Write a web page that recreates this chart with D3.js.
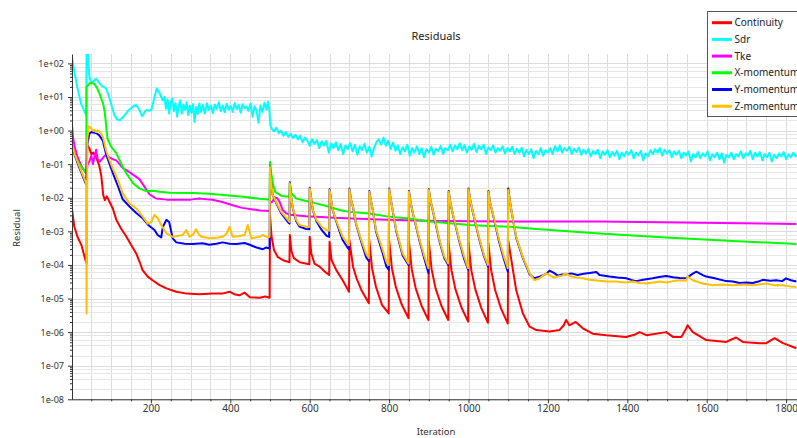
<!DOCTYPE html>
<html><head><meta charset="utf-8">
<script src="https://cdn.jsdelivr.net/npm/d3@7"></script>
<style>
body{margin:0;background:#fff}
text{font-family:"Noto Sans",sans-serif}
</style>
</head><body>
<svg id="chart" width="797" height="438"></svg>
<script>
// ---- data: [iteration, residual] ----
const seriesNames = ["Continuity","Sdr","Tke","X-momentum","Y-momentum","Z-momentum"];
const seriesColors = ["#ff0000","#00ffff","#ff00ff","#00ff00","#0000ff","#ffc000"];

const continuity = [[1,4.8e-3],[7,1.4e-3],[15,6.9e-4],[25,3.9e-4],[35,1.4e-4],[38,1.1e-4],[39,0.37],[45,0.3],[50,0.2],[55,0.22],[62,0.16],[70,0.09],[75,0.045],[80,0.012],[84,0.0085],[89,0.011],[96,0.0075],[104,0.0048],[113,0.0022],[125,0.0012],[138,7e-4],[150,4e-4],[163,2.2e-4],[172,1.2e-4],[179,7e-5],[186,5.5e-5],[192,4.5e-5],[204,3.5e-5],[222,2.5e-5],[239,2.0e-5],[264,1.6e-5],[290,1.4e-5],[322,1.35e-5],[355,1.4e-5],[380,1.4e-5],[398,1.6e-5],[410,1.35e-5],[423,1.25e-5],[436,1.5e-5],[449,1.1e-5],[474,1.05e-5],[488,1.15e-5],[499,1.05e-5],
[500,3.1e-3],[504,6.9e-4],[510,2.8e-4],[520,1.7e-4],[535,1.35e-4],[549,1.2e-4],
[550,7.8e-4],[554,2.6e-4],[560,1.6e-4],[575,1.2e-4],[599,1.05e-4],
[600,6.9e-4],[604,2.2e-4],[612,1.1e-4],[625,8.9e-5],[637,6.5e-5],[649,5e-5],
[650,4.9e-4],[655,1.4e-4],[667,7e-5],[683,3.5e-5],[699,1.6e-5],
[700,5.5e-4],[709,9e-5],[718,4e-5],[730,1.8e-5],[749,7.2e-6],
[750,5.5e-4],[757,8e-5],[767,2.2e-5],[782,6.5e-6],[799,3.6e-6],
[800,5.5e-4],[807,8e-5],[817,2.2e-5],[832,6.5e-6],[849,2.6e-6],
[850,5e-4],[857,7.5e-5],[867,2e-5],[882,6e-6],[899,2.3e-6],
[900,5e-4],[907,7.5e-5],[917,2e-5],[932,6e-6],[949,2.3e-6],
[950,4.5e-4],[957,7e-5],[967,1.9e-5],[982,5.5e-6],[999,2.05e-6],
[1000,4.5e-4],[1007,7e-5],[1017,1.9e-5],[1032,5.3e-6],[1049,1.9e-6],
[1050,4.5e-4],[1057,7e-5],[1067,1.8e-5],[1082,5e-6],[1099,1.8e-6],
[1100,5.5e-4],[1108,1.4e-4],[1120,1.8e-5],[1137,3.6e-6],[1154,1.45e-6],[1171,1.15e-6],[1204,1.05e-6],[1229,1.15e-6],[1240,1.6e-6],[1246,2.3e-6],[1254,1.6e-6],[1262,1.8e-6],[1270,2.0e-6],[1288,1.3e-6],[1313,9e-7],[1347,8.1e-7],[1397,7.2e-7],[1420,8.5e-7],[1431,1.0e-6],[1448,8.1e-7],[1498,1.0e-6],[1515,7.2e-7],[1536,7.2e-7],[1547,1.2e-6],[1552,1.6e-6],[1565,1.0e-6],[1599,5.8e-7],[1649,5.1e-7],[1674,6.9e-7],[1691,5.1e-7],[1733,4.7e-7],[1750,4.7e-7],[1771,6.6e-7],[1792,4.7e-7],[1826,3.3e-7]];

const sdr = [[1,160],[8,50],[16,16],[24,6.5],[33,3.6],[37,2.9],[38,250],[41,200],[45,40],[50,25],[56,30],[62,35],[68,28],[75,22],[81,20],[87,18],[96,9],[102,5],[108,2.9],[114,2.2],[121,2.0],[128,2.4],[134,2.9],[142,3.8],[150,4.6],[157,5.4],[163,5.8],[171,4.1],[178,2.7],[184,3.5],[188,4.1],[196,3.9],[201,4.1],[206,7],[209,10],[215,18],[219,15],[222,13],[226,10],[230,8],
[234,10],[238,4.5],[242,8.5],[246,3.2],[250,7],[254,9],[258,3.8],[262,6.5],[266,2.6],[270,5.5],[274,8],[278,3.2],[282,6],[286,4.2],[290,7],[294,2.9],[298,5.5],[302,3.4],[306,6.2],[310,1.8],[314,5],[318,3.1],[322,6.4],[326,3.6],[331,5.8],[336,3.2],[341,6.5],[346,4.1],[351,5.6],[356,3.3],[361,6],[366,4.4],[371,7],[376,3.8],[381,5.5],[386,3.5],[391,6.3],[396,4.2],[401,5.4],[406,3.6],[411,6.6],[416,4.4],[421,5.8],[426,3.4],[431,6.1],[436,4.6],[441,5.2],[446,3.9],[451,6.4],[456,2.6],[461,5.3],[466,4.0],[471,1.7],[476,5.6],[481,3.6],[486,6.8],[491,4.2],[495,7.2],[498,4.5],
[501,1.4],[505,1.1],[510,0.95],[516,1.2],[522,0.85],[528,1.0],[534,0.7],[540,0.9],[546,0.65],[552,0.8],[558,0.6],[564,0.75],[570,0.55],[576,0.7],[582,0.45],[588,0.62],[594,0.5],[600,0.35],[606,0.55],[612,0.4],[618,0.52],[624,0.3],[630,0.48],[636,0.36],[642,0.5],[648,0.22],[654,0.42],[660,0.3],[666,0.45],[672,0.26],[678,0.4],[684,0.2],[690,0.36],[696,0.28],[702,0.42],[708,0.24],[714,0.38],[720,0.19],[726,0.34],[732,0.26],[738,0.4],[744,0.22],[750,0.33],[756,0.17],[762,0.3],[768,0.45],[774,0.55],[780,0.38],[786,0.62],[792,0.35],[798,0.5],[804,0.28],[810,0.44],[816,0.25],[822,0.36],[828,0.2],[834,0.32],[840,0.24],[846,0.38],[852,0.18],[858,0.3],[864,0.22],[870,0.34],[876,0.2],[882,0.3],[888,0.16],[894,0.28],[900,0.22],[906,0.33],[912,0.19],[918,0.29],[924,0.24],[930,0.35],[936,0.2],[942,0.3],[948,0.26],[954,0.38],[960,0.24],[966,0.36],[972,0.28],[978,0.42],[984,0.26],[990,0.37],[996,0.22],[1002,0.34],[1008,0.27],[1014,0.4],[1020,0.23],[1026,0.35],[1032,0.28],[1038,0.38],[1044,0.2],[1050,0.32],[1056,0.26],[1062,0.36],[1068,0.22],[1074,0.3],[1080,0.25],[1086,0.34],[1092,0.21],[1098,0.3],[1104,0.24],[1110,0.33],[1116,0.2],[1122,0.29],[1128,0.22],[1134,0.31],[1140,0.17],[1146,0.27],[1152,0.2],[1158,0.28],[1164,0.15],[1170,0.25],[1176,0.2],[1182,0.3],[1188,0.18],[1194,0.26],[1200,0.22],[1206,0.3],[1212,0.2],[1218,0.34],[1224,0.24],[1230,0.36],[1236,0.22],[1242,0.3],[1248,0.25],[1254,0.33],[1260,0.2],[1266,0.29],[1272,0.23],[1278,0.31],[1284,0.19],[1290,0.27],[1296,0.21],[1302,0.28],[1308,0.17],[1314,0.25],[1320,0.2],[1326,0.27],[1332,0.15],[1338,0.24],[1344,0.19],[1350,0.26],[1356,0.16],[1362,0.23],[1368,0.18],[1374,0.25],[1380,0.14],[1386,0.22],[1392,0.17],[1398,0.24],[1404,0.19],[1410,0.26],[1416,0.15],[1422,0.22],[1428,0.18],[1434,0.25],[1440,0.13],[1446,0.21],[1452,0.17],[1458,0.26],[1464,0.2],[1470,0.28],[1476,0.22],[1482,0.3],[1488,0.18],[1494,0.27],[1500,0.21],[1506,0.26],[1512,0.16],[1518,0.24],[1524,0.19],[1530,0.25],[1536,0.15],[1542,0.22],[1548,0.18],[1554,0.24],[1560,0.12],[1566,0.2],[1572,0.16],[1578,0.23],[1584,0.15],[1590,0.21],[1596,0.17],[1602,0.24],[1608,0.13],[1614,0.2],[1620,0.16],[1626,0.22],[1632,0.14],[1638,0.21],[1644,0.11],[1650,0.19],[1656,0.16],[1662,0.22],[1668,0.14],[1674,0.2],[1680,0.17],[1686,0.24],[1692,0.15],[1698,0.21],[1704,0.18],[1710,0.25],[1716,0.14],[1722,0.22],[1728,0.17],[1734,0.23],[1740,0.13],[1746,0.2],[1752,0.16],[1758,0.22],[1764,0.12],[1770,0.19],[1776,0.15],[1782,0.21],[1788,0.17],[1794,0.23],[1800,0.14],[1806,0.2],[1812,0.16],[1818,0.22],[1824,0.17],[1830,0.19]];

const tke = [[1,1.6],[4,0.6],[8,0.33],[14,0.18],[20,0.12],[28,0.075],[37,0.054],[41,0.1],[45,0.12],[50,0.18],[54,0.1],[58,0.17],[62,0.27],[66,0.14],[72,0.12],[80,0.16],[87,0.19],[96,0.16],[104,0.14],[113,0.13],[121,0.1],[130,0.075],[138,0.066],[146,0.058],[163,0.042],[171,0.036],[180,0.025],[189,0.017],[197,0.0125],[213,0.0095],[240,0.0088],[264,0.0087],[300,0.0088],[322,0.0095],[340,0.009],[355,0.0087],[380,0.0075],[406,0.006],[430,0.005],[457,0.0045],[475,0.0042],[490,0.0041],[499,0.004],
[501,0.0075],[506,0.0076],[512,0.0102],[518,0.0098],[525,0.0072],[532,0.0043],[540,0.0035],[550,0.0031],[591,0.0028],[675,0.0025],[758,0.0023],[843,0.00215],[927,0.00205],[1011,0.002],[1095,0.00195],[1330,0.00195],[1582,0.0018],[1826,0.00165]];

const xMomentum = [[1,0.38],[6,0.22],[12,0.15],[20,0.1],[28,0.075],[33,0.066],[37,0.055],[38,20],[41,22],[46,26],[52,26],[58,24],[64,19],[70,13],[75,9],[80,6],[83,4],[86,2],[88,1.1],[91,0.55],[96,0.42],[100,0.33],[113,0.21],[125,0.105],[138,0.054],[155,0.027],[171,0.019],[188,0.0158],[205,0.0162],[222,0.0152],[247,0.0141],[305,0.0138],[347,0.0132],[390,0.0118],[432,0.0107],[474,0.0093],[495,0.0089],[499,0.0088],
[500,0.117],[503,0.054],[507,0.027],[513,0.015],[530,0.0112],[549,0.0107],[550,0.028],[553,0.014],[566,0.0095],[599,0.0076],[616,0.0068],[649,0.0054],[675,0.0043],[700,0.0038],[751,0.0034],[801,0.0027],[851,0.0024],[902,0.00195],[952,0.00174],[1003,0.00155],[1053,0.00145],[1104,0.00138],[1120,0.00132],[1162,0.0012],[1330,8.7e-4],[1498,6.6e-4],[1666,5.2e-4],[1826,4.2e-4]];

const yMomentum = [[1,0.4],[8,0.19],[15,0.11],[25,0.055],[33,0.032],[37,0.025],[40,0.4],[45,0.8],[50,0.91],[54,0.88],[62,0.85],[70,0.72],[79,0.5],[87,0.2],[96,0.1],[104,0.055],[117,0.022],[129,0.009],[146,0.0055],[163,0.0035],[180,0.0024],[192,0.0016],[201,0.0013],[209,0.0011],[217,7.8e-4],[226,6.6e-4],[230,0.00135],[239,0.0022],[246,0.0019],[255,6.2e-4],[264,4.7e-4],[285,4.3e-4],[305,4.2e-4],[330,4.4e-4],[347,4.0e-4],[365,4.3e-4],[381,4.7e-4],[398,4.3e-4],[415,4.2e-4],[436,4.5e-4],[449,4.0e-4],[466,3.3e-4],[482,2.95e-4],[490,3.3e-4],[499,3.1e-4],
[500,0.085],[503,0.027],[507,0.012],[515,0.0072],[528,0.0035],[545,0.0019],[549,0.0017],
[550,0.029],[553,0.011],[557,0.0052],[566,0.002],[574,0.0014],[591,0.00118],[599,0.00115],
[600,0.02],[604,0.009],[608,0.0042],[617,0.002],[630,0.0011],[642,7.5e-4],[649,6.8e-4],
[650,0.018],[654,0.0085],[658,0.0042],[671,0.0014],[683,5.5e-4],[696,3.2e-4],[699,2.9e-4],
[700,0.019],[704,0.009],[709,0.0053],[717,0.0016],[730,4.8e-4],[742,1.7e-4],[749,1.3e-4],
[750,0.016],[754,0.0085],[759,0.0042],[767,0.001],[784,2.2e-4],[793,9e-5],[799,7.2e-5],
[800,0.019],[804,0.009],[809,0.0042],[818,0.001],[834,1.9e-4],[849,1e-4],
[850,0.016],[854,0.0075],[860,0.0034],[877,5e-4],[889,1.5e-4],[899,5.8e-5],
[900,0.018],[904,0.0085],[910,0.0042],[927,5e-4],[939,1.6e-4],[949,1.0e-4],
[950,0.016],[954,0.0075],[960,0.0034],[977,5e-4],[989,1.5e-4],[999,7.2e-5],
[1000,0.019],[1004,0.009],[1010,0.0042],[1027,5.8e-4],[1039,1.8e-4],[1049,9e-5],
[1050,0.016],[1054,0.0075],[1060,0.0038],[1077,5e-4],[1089,1.5e-4],[1099,6.3e-5],
[1100,0.019],[1104,0.0085],[1108,0.0042],[1120,6.5e-4],[1137,1.6e-4],[1154,5.2e-5],[1166,4e-5],[1179,4.5e-5],[1196,5.4e-5],[1204,6.8e-5],[1215,5.8e-5],[1225,4.8e-5],[1236,5.2e-5],[1246,5.3e-5],[1259,5.6e-5],[1275,5.0e-5],[1290,5.5e-5],[1305,5.8e-5],[1322,6.2e-5],[1330,5e-5],[1355,4.5e-5],[1375,4.2e-5],[1397,4e-5],[1410,3.6e-5],[1422,3.3e-5],[1440,3.6e-5],[1464,4e-5],[1480,4.4e-5],[1498,4.7e-5],[1515,4.3e-5],[1532,4.1e-5],[1548,4e-5],[1565,5.5e-5],[1574,6.3e-5],[1590,5e-5],[1599,4.5e-5],[1620,4e-5],[1649,3.3e-5],[1666,3.2e-5],[1683,2.9e-5],[1700,3.0e-5],[1716,2.9e-5],[1730,3.2e-5],[1741,3.6e-5],[1760,3.4e-5],[1775,3.5e-5],[1790,3.3e-5],[1800,4e-5],[1812,3.5e-5],[1826,3.2e-5]];

const zMomentum = [[1,0.42],[8,0.2],[15,0.12],[25,0.06],[33,0.035],[37,0.027],[38,3.6e-6],[40,0.6],[44,1.35],[48,1.2],[54,1.0],[58,1.05],[62,0.9],[66,1.0],[70,0.95],[75,0.8],[79,0.66],[87,0.26],[96,0.13],[104,0.074],[117,0.034],[129,0.0135],[146,0.0068],[163,0.0048],[180,0.0027],[192,0.0017],[201,0.0019],[209,0.0031],[217,0.0025],[226,0.00155],[239,8.7e-4],[255,6.9e-4],[280,7.8e-4],[289,0.0011],[297,6.9e-4],[306,8e-4],[314,0.00115],[321,8e-4],[327,6.9e-4],[348,6.2e-4],[365,6.5e-4],[381,6.9e-4],[390,8.5e-4],[398,0.00135],[406,6.9e-4],[420,7.2e-4],[436,7.8e-4],[444,0.00155],[453,6.2e-4],[474,6.9e-4],[482,7.8e-4],[494,6.6e-4],[499,6.9e-4],
[500,0.083],[503,0.027],[507,0.012],[515,0.0076],[528,0.0038],[545,0.0022],[549,0.0019],
[550,0.027],[553,0.011],[557,0.0054],[566,0.0022],[574,0.00155],[591,0.00138],[599,0.00135],
[600,0.019],[604,0.009],[608,0.0043],[617,0.0022],[630,0.00138],[642,0.0011],[649,0.00105],
[650,0.017],[654,0.0085],[658,0.0043],[671,0.00155],[683,6.9e-4],[696,4.4e-4],[699,3.9e-4],
[700,0.018],[704,0.009],[709,0.0054],[717,0.0017],[730,5.5e-4],[742,2.2e-4],[749,1.6e-4],
[750,0.015],[754,0.0085],[759,0.0043],[767,0.0011],[784,2.8e-4],[793,1.26e-4],[799,1.0e-4],
[800,0.018],[804,0.009],[809,0.0043],[818,0.0011],[834,2.2e-4],[849,1.1e-4],
[850,0.015],[854,0.0075],[860,0.0035],[877,5.5e-4],[889,1.8e-4],[899,8e-5],
[900,0.017],[904,0.0085],[910,0.0043],[927,5.5e-4],[939,1.8e-4],[949,1.1e-4],
[950,0.015],[954,0.0075],[960,0.0035],[977,5.5e-4],[989,1.8e-4],[999,8e-5],
[1000,0.018],[1004,0.009],[1010,0.0043],[1027,6.3e-4],[1039,2e-4],[1049,1e-4],
[1050,0.015],[1054,0.0075],[1060,0.004],[1077,5.6e-4],[1089,1.8e-4],[1099,8e-5],
[1100,0.017],[1104,0.0085],[1108,0.0043],[1120,6.9e-4],[1137,1.7e-4],[1154,5.6e-5],[1166,3.5e-5],[1179,4e-5],[1188,4.8e-5],[1196,5.6e-5],[1204,5e-5],[1215,4.2e-5],[1225,4.5e-5],[1236,4.8e-5],[1246,5.6e-5],[1259,4.5e-5],[1272,4.2e-5],[1288,4e-5],[1305,3.6e-5],[1330,3.4e-5],[1350,3.2e-5],[1372,3.2e-5],[1395,3.0e-5],[1414,3.2e-5],[1430,2.9e-5],[1448,2.8e-5],[1465,3.0e-5],[1481,3.2e-5],[1500,3.0e-5],[1515,3.3e-5],[1532,3.5e-5],[1548,3.4e-5],[1552,4.5e-5],[1558,4.0e-5],[1565,3.5e-5],[1590,2.8e-5],[1615,2.5e-5],[1640,2.6e-5],[1666,2.5e-5],[1690,2.6e-5],[1716,2.5e-5],[1740,2.7e-5],[1750,2.8e-5],[1770,2.5e-5],[1792,2.5e-5],[1810,2.3e-5],[1826,2.2e-5]];

const seriesData = [continuity, sdr, tke, xMomentum, yMomentum, zMomentum];
const xTickValues = [200,400,600,800,1000,1200,1400,1600,1800];
const yTickLabels = ["1e-08","1e-07","1e-06","1e-05","1e-04","1e-03","1e-02","1e-01","1e+00","1e+01","1e+02"];
const chartTitle = "Residuals", xTitle = "Iteration", yTitle = "Residual";

// ---- layout ----
const plot = {left:72, right:800, top:54, bottom:399.3};
const svg = d3.select("#chart");
svg.append("rect").attr("width",797).attr("height",438).attr("fill","#fff");

const x = d3.scaleLinear().domain([0,1835]).range([71.5,800]);
const y = d3.scaleLog().domain([1e-8, Math.pow(10,2.28)]).range([plot.bottom, plot.top]);
const decades = yTickLabels.map(s => +s);

// grid
const grid = svg.append("g").attr("stroke","#dcdcdc").attr("stroke-width",1).attr("shape-rendering","crispEdges");
d3.range(50,1850,50).forEach(v => {
  grid.append("line").attr("x1",Math.round(x(v))+0.5).attr("x2",Math.round(x(v))+0.5)
    .attr("y1",plot.top).attr("y2",plot.bottom);
});
const minorGrid = [];
decades.forEach(d => [2,4,6,8].forEach(m => { const v = d*m; if (v < y.domain()[1]) minorGrid.push(v); }));
minorGrid.forEach(v => {
  grid.append("line").attr("x1",plot.left).attr("x2",plot.right)
    .attr("y1",Math.round(y(v))+0.5).attr("y2",Math.round(y(v))+0.5).attr("stroke","#e6e6e6");
});
decades.forEach(v => {
  grid.append("line").attr("x1",plot.left).attr("x2",plot.right)
    .attr("y1",Math.round(y(v))+0.5).attr("y2",Math.round(y(v))+0.5);
});

// series lines
svg.append("clipPath").attr("id","plotClip").append("rect")
  .attr("x",plot.left).attr("y",plot.top).attr("width",plot.right-plot.left).attr("height",plot.bottom-plot.top);
const line = d3.line().x(d => x(d[0])).y(d => y(d[1]));
const lines = svg.append("g").attr("clip-path","url(#plotClip)");
seriesData.forEach((data,i) => {
  lines.append("path").datum(data).attr("d",line).attr("fill","none")
    .attr("stroke",seriesColors[i]).attr("stroke-width",2).attr("stroke-linejoin","round");
});

// y axis
const yAxis = d3.axisLeft(y).tickValues(decades).tickFormat((d,i) => yTickLabels[i]).tickSize(4).tickSizeOuter(0);
const gy = svg.append("g").attr("transform",`translate(${plot.left},0)`).call(yAxis);
const minorY = [];
decades.forEach(d => [2,3,4,5,6,7,8,9].forEach(m => { const v = d*m; if (v < y.domain()[1]) minorY.push(v); }));
svg.append("g").attr("transform",`translate(${plot.left},0)`)
  .call(d3.axisLeft(y).tickValues(minorY).tickFormat("").tickSize(2).tickSizeOuter(0))
  .call(g => g.select(".domain").remove());

// x axis
const xAxis = d3.axisBottom(x).tickValues(xTickValues).tickFormat(d3.format("d")).tickSize(4).tickSizeOuter(0);
const gx = svg.append("g").attr("transform",`translate(0,${plot.bottom})`).call(xAxis);
svg.append("g").attr("transform",`translate(0,${plot.bottom})`)
  .call(d3.axisBottom(x).tickValues(d3.range(50,1850,50).filter(v => v%200)).tickFormat("").tickSize(2).tickSizeOuter(0))
  .call(g => g.select(".domain").remove());

svg.selectAll(".domain").attr("stroke","#333");
svg.selectAll(".tick line").attr("stroke","#333");
gy.selectAll("text").attr("font-size",9).attr("fill","#333").attr("font-family","Noto Sans").attr("x",-8);
gx.selectAll("text").attr("font-size",10).attr("fill","#333").attr("font-family","Noto Sans").attr("y",6);

// titles
svg.append("text").attr("x",436).attr("y",40).attr("text-anchor","middle").attr("font-size",11).attr("fill","#222").text(chartTitle);
svg.append("text").attr("x",436).attr("y",435).attr("text-anchor","middle").attr("font-size",9.5).attr("fill","#333").text(xTitle);
svg.append("text").attr("transform","translate(20,228) rotate(-90)").attr("text-anchor","middle").attr("font-size",9.5).attr("fill","#333").text(yTitle);

// legend
const legend = svg.append("g");
legend.append("rect").attr("x",707.5).attr("y",11.5).attr("width",100).attr("height",105)
  .attr("fill","#fff").attr("stroke","#555");
seriesNames.forEach((name,i) => {
  const cy = 22.7 + i*16.7;
  legend.append("line").attr("x1",712).attr("x2",732).attr("y1",cy).attr("y2",cy)
    .attr("stroke",seriesColors[i]).attr("stroke-width",3);
  legend.append("text").attr("x",734.5).attr("y",cy).attr("dy","0.35em").attr("font-size",10).attr("fill","#222").text(name);
});
</script>
</body></html>
